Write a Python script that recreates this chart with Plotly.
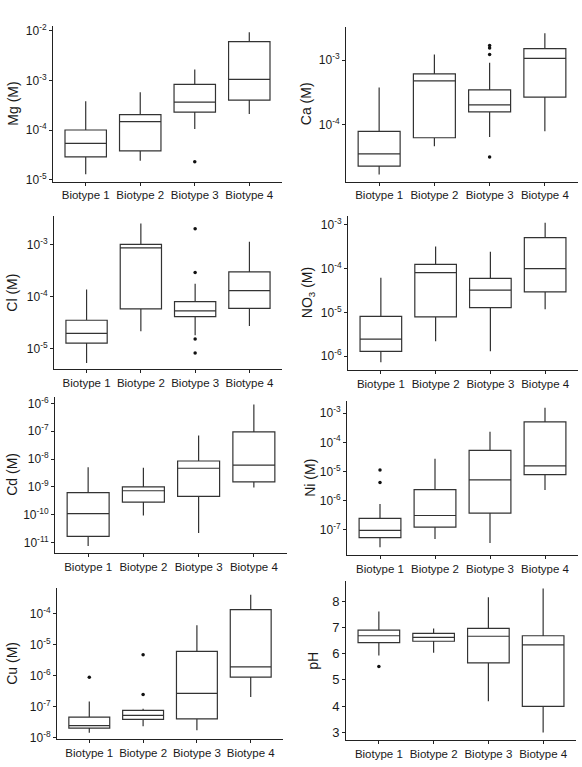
import numpy as np
import plotly.graph_objects as go

W, H = 582, 767
categories = ["Biotype 1", "Biotype 2", "Biotype 3", "Biotype 4"]

# ---- values (log10 of molar concentration, except pH) ----
mg_lo = [-4.89, -4.62, -3.98, -3.68]
mg_q1 = [-4.54, -4.42, -3.64, -3.40]
mg_med = [-4.27, -3.83, -3.44, -2.98]
mg_q3 = [-4.00, -3.69, -3.08, -2.22]
mg_hi = [-3.42, -3.24, -2.78, -2.03]
mg_out_x = ["Biotype 3"]
mg_out_y = [-4.64]

ca_lo = [-4.77, -4.33, -4.19, -4.10]
ca_q1 = [-4.64, -4.20, -3.80, -3.57]
ca_med = [-4.45, -3.32, -3.69, -2.97]
ca_q3 = [-4.10, -3.21, -3.46, -2.82]
ca_hi = [-3.42, -2.91, -3.04, -2.58]
ca_out_x = ["Biotype 3", "Biotype 3", "Biotype 3", "Biotype 3"]
ca_out_y = [-2.77, -2.81, -2.91, -4.50]

cl_lo = [-5.27, -4.66, -4.74, -4.56]
cl_q1 = [-4.89, -4.23, -4.38, -4.22]
cl_med = [-4.70, -3.06, -4.27, -3.88]
cl_q3 = [-4.45, -2.99, -4.09, -3.52]
cl_hi = [-3.86, -2.59, -3.75, -2.94]
cl_out_x = ["Biotype 3", "Biotype 3", "Biotype 3", "Biotype 3"]
cl_out_y = [-2.69, -3.53, -4.81, -5.08]

no3_lo = [-6.14, -5.66, -5.89, -4.93]
no3_q1 = [-5.89, -5.10, -4.89, -4.53]
no3_med = [-5.61, -4.09, -4.49, -4.00]
no3_q3 = [-5.09, -3.90, -4.22, -3.29]
no3_hi = [-4.21, -3.49, -3.61, -2.95]
no3_out_x = []
no3_out_y = []

cd_lo = [-11.13, -10.03, -10.66, -9.02]
cd_q1 = [-10.78, -9.55, -9.34, -8.82]
cd_med = [-9.96, -9.14, -8.33, -8.22]
cd_q3 = [-9.21, -9.00, -8.07, -7.02]
cd_hi = [-8.29, -8.31, -7.15, -6.04]
cd_out_x = []
cd_out_y = []

ni_lo = [-7.61, -7.33, -7.47, -5.64]
ni_q1 = [-7.28, -6.92, -6.44, -5.11]
ni_med = [-7.03, -6.52, -5.29, -4.81]
ni_q3 = [-6.62, -5.63, -4.28, -3.30]
ni_hi = [-6.12, -4.57, -3.64, -2.81]
ni_out_x = ["Biotype 1", "Biotype 1"]
ni_out_y = [-4.95, -5.38]

cu_lo = [-7.84, -7.63, -7.76, -6.69]
cu_q1 = [-7.69, -7.41, -7.39, -6.05]
cu_med = [-7.61, -7.28, -6.57, -5.72]
cu_q3 = [-7.34, -7.12, -5.22, -3.88]
cu_hi = [-6.83, -7.07, -4.38, -3.40]
cu_out_x = ["Biotype 1", "Biotype 2", "Biotype 2"]
cu_out_y = [-6.05, -5.33, -6.61]

ph_lo = [5.93, 6.03, 4.19, 3.00]
ph_q1 = [6.42, 6.47, 5.65, 3.99]
ph_med = [6.68, 6.62, 6.66, 6.33]
ph_q3 = [6.89, 6.77, 6.96, 6.68]
ph_hi = [7.60, 6.96, 8.15, 8.48]
ph_out_x = ["Biotype 1"]
ph_out_y = [5.51]

# ---- panel definitions ----
panels = [
    dict(title="Mg (M)", log=True, stats=(mg_lo, mg_q1, mg_med, mg_q3, mg_hi), out=(mg_out_x, mg_out_y),
         ticks=[-5, -4, -3, -2], yr=[-5.04, -1.9], px=(53, 282), py=(22, 180), tx=13),
    dict(title="Ca (M)", log=True, stats=(ca_lo, ca_q1, ca_med, ca_q3, ca_hi), out=(ca_out_x, ca_out_y),
         ticks=[-4, -3], yr=[-4.88, -2.48], px=(346, 578), py=(23, 180), tx=306),
    dict(title="Cl (M)", log=True, stats=(cl_lo, cl_q1, cl_med, cl_q3, cl_hi), out=(cl_out_x, cl_out_y),
         ticks=[-5, -4, -3], yr=[-5.39, -2.45], px=(54, 282), py=(215, 370), tx=12),
    dict(title="NO<sub>3</sub> (M)", log=True, stats=(no3_lo, no3_q1, no3_med, no3_q3, no3_hi), out=(no3_out_x, no3_out_y),
         ticks=[-6, -5, -4, -3], yr=[-6.32, -2.80], px=(348, 578), py=(215, 371), tx=308),
    dict(title="Cd (M)", log=True, stats=(cd_lo, cd_q1, cd_med, cd_q3, cd_hi), out=(cd_out_x, cd_out_y),
         ticks=[-11, -10, -9, -8, -7, -6], yr=[-11.37, -5.76], px=(55, 287), py=(398, 556), tx=12),
    dict(title="Ni (M)", log=True, stats=(ni_lo, ni_q1, ni_med, ni_q3, ni_hi), out=(ni_out_x, ni_out_y),
         ticks=[-7, -6, -5, -4, -3], yr=[-7.87, -2.57], px=(347, 578), py=(402, 558), tx=310),
    dict(title="Cu (M)", log=True, stats=(cu_lo, cu_q1, cu_med, cu_q3, cu_hi), out=(cu_out_x, cu_out_y),
         ticks=[-8, -7, -6, -5, -4], yr=[-8.05, -3.19], px=(57, 283), py=(592, 745), tx=12),
    dict(title="pH", log=False, stats=(ph_lo, ph_q1, ph_med, ph_q3, ph_hi), out=(ph_out_x, ph_out_y),
         ticks=[3, 4, 5, 6, 7, 8], yr=[2.70, 8.75], px=(346, 576), py=(585, 746), tx=313),
]

FONT = "Liberation Sans, Arial, sans-serif"
TXT = "#1a1a1a"
LINE = "#333333"

fig = go.Figure()
annotations = []
layout = {}

for i, p in enumerate(panels):
    n = "" if i == 0 else str(i + 1)
    xa, ya = "x" + n, "y" + n
    lo, q1, med, q3, hi = p["stats"]
    conv = (lambda v: list(np.power(10.0, v))) if p["log"] else (lambda v: list(v))
    fig.add_trace(go.Box(
        x=categories, lowerfence=conv(lo), q1=conv(q1), median=conv(med), q3=conv(q3), upperfence=conv(hi),
        xaxis=xa, yaxis=ya, fillcolor="white", line=dict(color=LINE, width=1.2),
        whiskerwidth=0, width=0.76, boxpoints=False, showlegend=False, hoverinfo="skip"))
    ox, oy = p["out"]
    if len(ox):
        fig.add_trace(go.Scatter(
            x=ox, y=conv(oy), mode="markers", xaxis=xa, yaxis=ya,
            marker=dict(color="#111111", size=3.5), showlegend=False, hoverinfo="skip"))

    l, r = p["px"]
    t, b = p["py"]
    xdom = [l / W, r / W]
    ydom = [1 - b / H, 1 - t / H]
    layout["xaxis" + n] = dict(
        domain=xdom, anchor=ya, type="category", categoryorder="array", categoryarray=categories,
        range=[-0.6, 3.6], showline=True, linecolor="#222", linewidth=1, ticks="outside",
        ticklen=3, tickcolor="#222", showgrid=False, zeroline=False,
        tickfont=dict(family=FONT, size=11.5, color=TXT))
    if p["log"]:
        tv = [10.0 ** k for k in p["ticks"]]
        tt = ["10<sup>%d</sup>" % k for k in p["ticks"]]
        layout["yaxis" + n] = dict(
            domain=ydom, anchor=xa, type="log", range=p["yr"], tickvals=tv, ticktext=tt,
            showline=True, linecolor="#222", linewidth=1, ticks="outside", ticklen=3,
            tickcolor="#222", showgrid=False, zeroline=False,
            tickfont=dict(family=FONT, size=12, color=TXT))
    else:
        layout["yaxis" + n] = dict(
            domain=ydom, anchor=xa, range=p["yr"], tickvals=p["ticks"],
            showline=True, linecolor="#222", linewidth=1, ticks="outside", ticklen=3,
            tickcolor="#222", showgrid=False, zeroline=False,
            tickfont=dict(family=FONT, size=13, color=TXT))
    annotations.append(dict(
        text=p["title"], x=p["tx"] / W, y=(ydom[0] + ydom[1]) / 2, xref="paper", yref="paper",
        xanchor="center", yanchor="middle", textangle=-90, showarrow=False,
        font=dict(family=FONT, size=14, color=TXT)))

fig.update_layout(
    width=W, height=H, margin=dict(l=0, r=0, t=0, b=0),
    paper_bgcolor="white", plot_bgcolor="white",
    annotations=annotations, **layout)

fig.write_html("out.html")
